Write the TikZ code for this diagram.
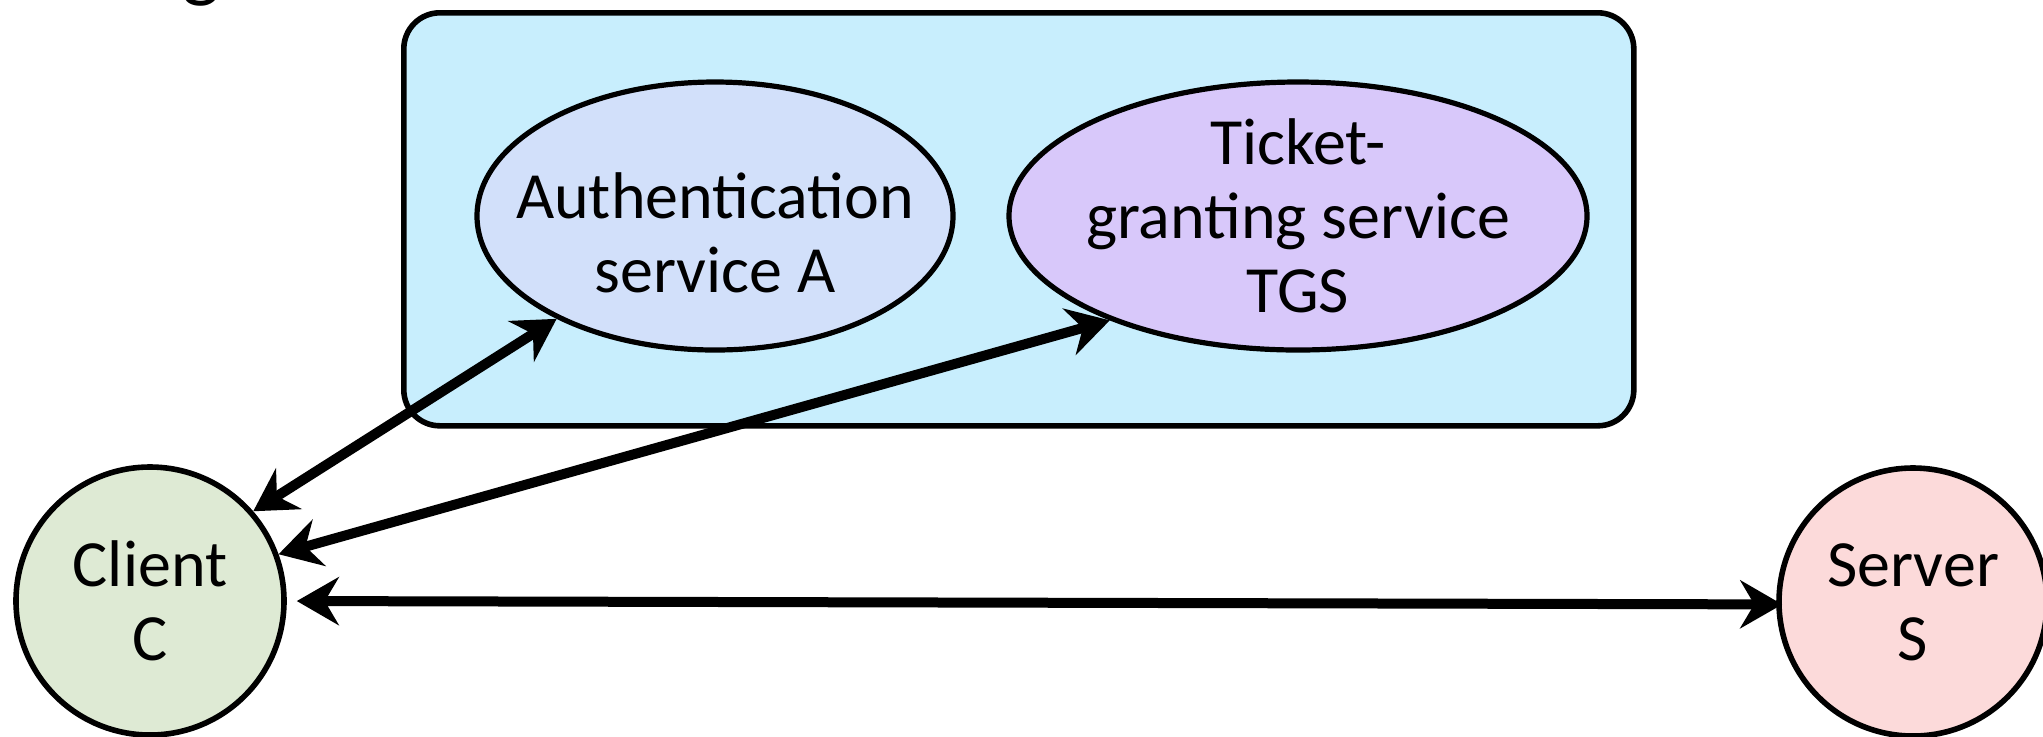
\documentclass[tikz,border=0pt]{standalone}
\usepackage{fontspec}
\setmainfont{Carlito}
\usetikzlibrary{arrows.meta,shapes.geometric}
\definecolor{kdcfill}{RGB}{200,238,253}
\definecolor{asfill}{RGB}{210,224,250}
\definecolor{tgsfill}{RGB}{216,200,250}
\definecolor{clientfill}{RGB}{222,234,212}
\definecolor{serverfill}{RGB}{252,218,218}
\begin{document}
\begin{tikzpicture}[x=0.5pt,y=-0.5pt,
  svc/.style={ellipse,draw,line width=2.6pt,inner sep=0pt},
  host/.style={circle,draw,line width=2.8pt,inner sep=0pt,minimum size=134pt},
  lbl/.style={align=center,font=\fontsize{33}{37}\selectfont,inner sep=0pt},
  link/.style={line width=5pt,
    {Stealth[length=21pt,width=24pt,inset=7pt]}-{Stealth[length=21pt,width=24pt,inset=7pt]}}
]
\useasboundingbox (0,0) rectangle (2043,736);

% heading, mostly above the frame
\node[anchor=base,inner sep=0pt,font=\fontsize{40}{44}\selectfont] (title) at (201,-8) {g};

% key distribution centre
\node[draw,fill=kdcfill,rounded corners=18pt,line width=2.8pt,
      minimum width=615pt,minimum height=206.5pt,anchor=north west] (kdc) at (401,10) {};

\node[svc,fill=asfill,minimum width=238pt,minimum height=134pt] (A) at (715,216) {};
\node[lbl] (Atext) at (715,233) {Authentication\\service A};

\node[svc,fill=tgsfill,minimum width=289pt,minimum height=134pt] (T) at (1298,216) {};
\node[lbl] (Ttext) at (1298,216) {Ticket-\\granting service\\TGS};

% hosts
\node[host,fill=clientfill] (C) at (150,601) {};
\node[lbl] (Ctext) at (150,601) {Client\\C};

\node[host,fill=serverfill] (S) at (1913,602) {};
\node[lbl] (Stext) at (1913,602) {Server\\S};

% message exchanges
\draw[link] (C.41) -- (A.213);
\draw[link] (C.20) -- (T.209);
\draw[link,shorten <=5pt,shorten >=-3pt] (C.0) -- (S.181);
\end{tikzpicture}
\end{document}
